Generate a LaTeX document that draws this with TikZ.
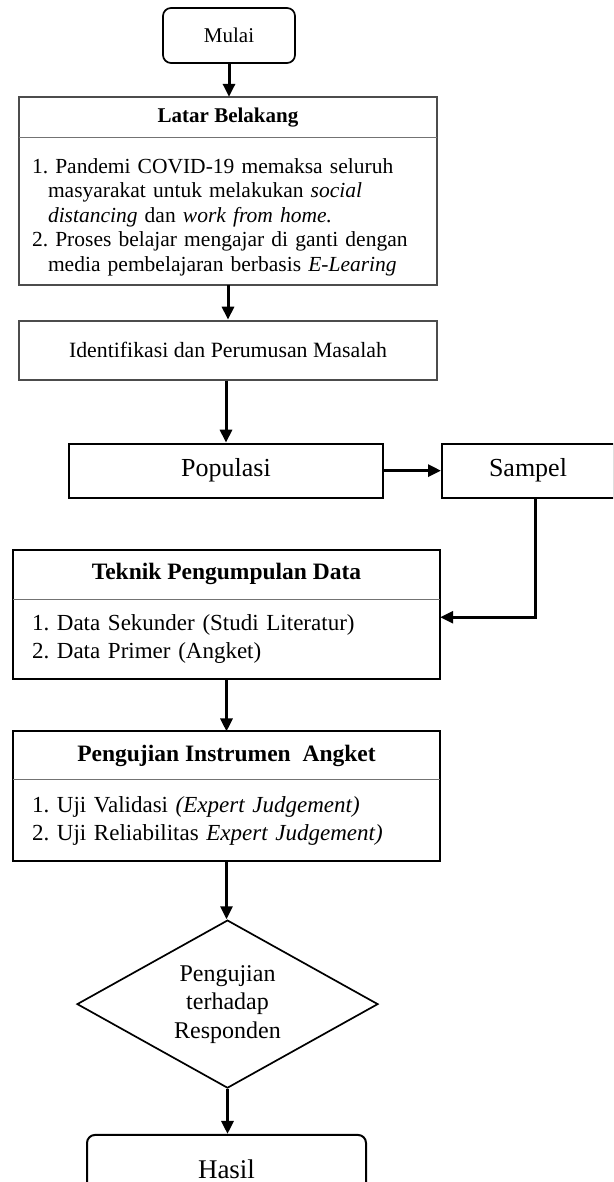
\documentclass[tikz,border=0pt]{standalone}
\usepackage{fontspec}
\setmainfont{Liberation Serif}
\usetikzlibrary{arrows.meta,positioning,shapes.geometric}
\tikzset{
    startstop/.style = {rectangle,
                    rounded corners=8pt,
                    draw=black,
                    text=black,
                    line width=1.7pt,
                    inner sep=0pt},
    process/.style = {rectangle,
                    draw=black,
                    text=black,
                    line width=2pt,
                    inner sep=0pt,
                    font=\fontsize{26}{30}\selectfont},
    boxhead/.style = {rectangle,
                    inner sep=0pt,
                    align=center},
    boxbody/.style = {rectangle,
                    inner ysep=0pt,
                    align=left},
    decision/.style = {diamond,
                    aspect=1.79,
                    draw=black,
                    line width=1.7pt,
                    inner sep=0pt,
                    align=center,
                    minimum width=301pt,
                    minimum height=168pt,
                    font=\fontsize{24}{28.5}\selectfont},
    -,
    grayframe/.style = {draw=black!70, line width=2pt},
    frame/.style = {draw=black, line width=2pt},
    divider/.style = {draw=black!55, line width=1pt},
    flow/.style = {line width=3pt, -{Triangle[length=13pt,width=12pt]}}}

\begin{document}
\begin{tikzpicture}[x=1pt,y=-1pt]
    \clip (0,0) rectangle (613,1182);
    % mulai dan latar belakang
    \node[startstop, minimum width=132pt, minimum height=55pt,
          font=\fontsize{21}{24}\selectfont] (mulai) at (229,35.5) {Mulai};
    \node[boxhead, minimum width=418pt, minimum height=40pt,
          font=\bfseries\fontsize{21}{24}\selectfont]
          (latarH) [below=33pt of mulai, xshift=-1pt] {Latar Belakang};
    \node[boxbody, text width=392pt, inner xsep=13pt, minimum height=147pt,
          font=\fontsize{21.5}{24.5}\selectfont]
          (latarB) [below=0pt of latarH] {%
        \rule{0pt}{27pt}1.~Pandemi COVID-19 memaksa seluruh\\
        \hspace*{16pt}masyarakat untuk melakukan \textit{social}\\
        \hspace*{16pt}\textit{distancing} dan \textit{work from home.}\\
        2.~Proses belajar mengajar di ganti dengan\\
        \hspace*{16pt}media pembelajaran berbasis \textit{E-Learing}};
    \draw[grayframe] (latarH.north west) rectangle (latarB.south east);
    \draw[divider] (latarH.south west) -- (latarH.south east);
    % identifikasi
    \node[rectangle, grayframe, minimum width=418pt, minimum height=59pt,
          inner sep=0pt, font=\fontsize{21.8}{24}\selectfont]
          (ident) [below=35pt of latarB] {Identifikasi\ dan\ Perumusan\ Masalah};
    % populasi dan sampel
    \node[process, minimum width=314pt, minimum height=54pt]
          (populasi) [below=62pt of ident, xshift=-2pt] {Populasi};
    \node[process, minimum width=172pt, minimum height=54pt]
          (sampel) [right=57pt of populasi] {Sampel};
    % teknik pengumpulan data
    \node[boxhead, minimum width=427pt, minimum height=49pt,
          font=\bfseries\fontsize{23.5}{26}\selectfont]
          (teknikH) [below=51pt of populasi, xshift=0.5pt] {Teknik Pengumpulan Data};
    \node[boxbody, text width=389pt, inner xsep=19pt, minimum height=80pt,
          font=\fontsize{23}{28}\selectfont]
          (teknikB) [below=0pt of teknikH] {%
        1.~Data Sekunder (Studi Literatur)\\
        2.~Data Primer (Angket)};
    \draw[frame] (teknikH.north west) rectangle (teknikB.south east);
    \draw[divider] (teknikH.south west) -- (teknikH.south east);
    % pengujian instrumen
    \node[boxhead, minimum width=427pt, minimum height=48pt,
          font=\bfseries\fontsize{23.5}{26}\selectfont]
          (ujiH) [below=52pt of teknikB] {Pengujian Instrumen\ \ Angket};
    \node[boxbody, text width=389pt, inner xsep=19pt, minimum height=81pt,
          font=\fontsize{23}{28}\selectfont]
          (ujiB) [below=0pt of ujiH] {%
        1.~Uji Validasi \textit{(Expert Judgement)}\\
        2.~Uji Reliabilitas \textit{Expert Judgement)}};
    \draw[frame] (ujiH.north west) rectangle (ujiB.south east);
    \draw[divider] (ujiH.south west) -- (ujiH.south east);
    % responden dan hasil
    \node[decision] (cek) [below=58pt of ujiB, xshift=1pt]
          {Pengujian\\terhadap\\Responden};
    \node[startstop, line width=2pt, minimum width=279pt, minimum height=68pt,
          font=\fontsize{27}{30}\selectfont]
          (hasil) [below=45pt of cek, xshift=-1pt] {Hasil};
    % alur
    \draw[flow] (mulai.south) -- (mulai.south |- latarH.north);
    \draw[flow] (latarB.south) -- (ident.north);
    \draw[flow] (ident.south -| populasi.north) -- (populasi.north);
    \draw[flow] (populasi.east) -- (sampel.west);
    \draw[flow] ([xshift=7pt]sampel.south) |- ([yshift=22pt]teknikB.east);
    \draw[flow] (teknikB.south) -- (ujiH.north);
    \draw[flow] (ujiB.south) -- (ujiB.south |- cek.north);
    \draw[flow] (cek.south) -- (cek.south |- hasil.north);
\end{tikzpicture}
\end{document}
